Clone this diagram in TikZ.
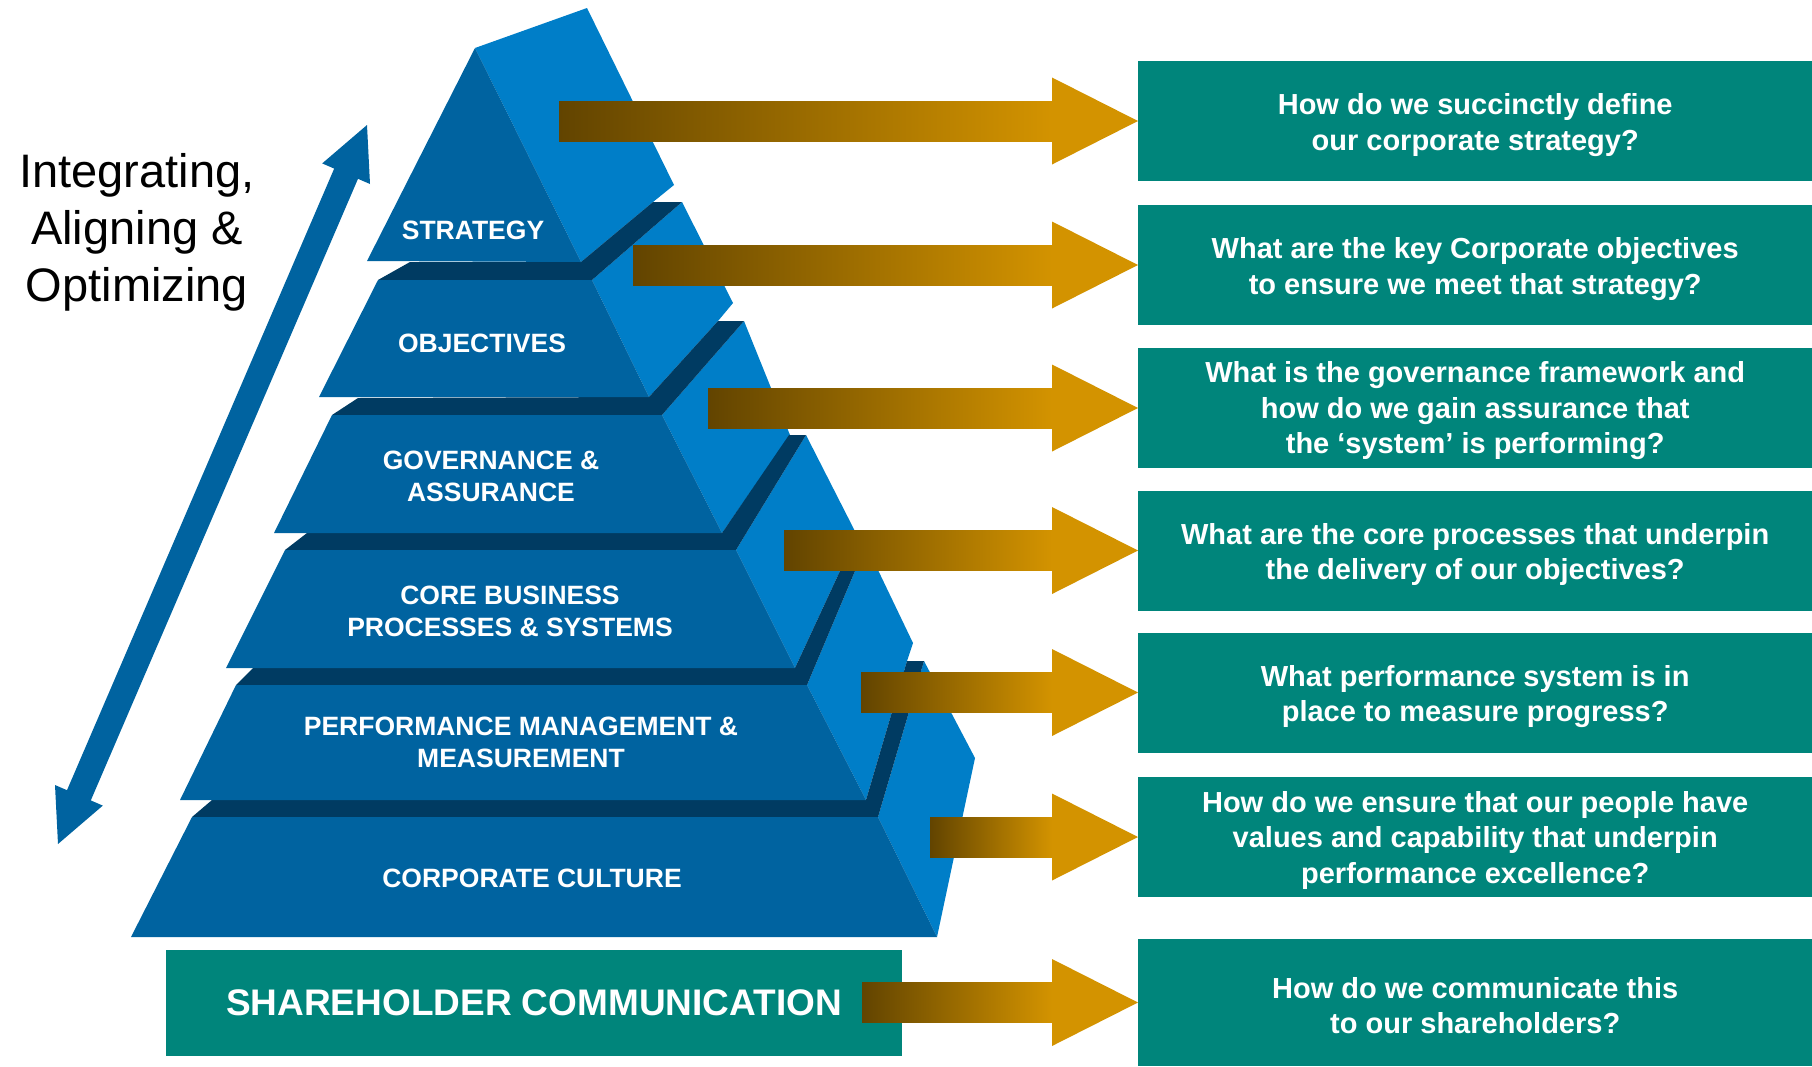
\documentclass[tikz,border=0pt]{standalone}
\usepackage{fontspec}
\setmainfont{Liberation Sans}
\usetikzlibrary{calc}

\definecolor{tierfront}{RGB}{0,99,160}
\definecolor{tierside}{RGB}{0,126,200}
\definecolor{tierledge}{RGB}{0,59,98}
\definecolor{qteal}{RGB}{0,133,123}
\definecolor{arrowgold}{RGB}{211,147,0}
\definecolor{arrowbrown}{RGB}{98,68,0}

\begin{document}
\begin{tikzpicture}[x=1pt,y=-1pt,
  front/.style={fill=tierfront},
  side/.style={fill=tierside},
  ledge/.style={fill=tierledge},
  tierlabel/.style={text=white,font=\fontsize{26.5}{32}\selectfont\bfseries,align=center,inner sep=0pt},
  qbox/.style={fill=qteal,minimum width=674pt,minimum height=120pt,inner sep=0pt,anchor=west},
  qtext/.style={text=white,font=\fontsize{29}{35.5}\selectfont\bfseries,align=center,inner sep=0pt},
  shaft/.style={left color=arrowbrown,right color=arrowgold},
  head/.style={fill=arrowgold}]

\useasboundingbox (0,0) rectangle (1812,1066);

% ---- double arrow on the left ----
\coordinate (up) at (367,125);
\coordinate (down) at (58,844);
\fill[tierfront] (up) -- (370.0,184.0) -- (358.0,178.8) -- (90.8,800.4) -- (102.8,805.6)
  -- (down) -- (55.0,785.0) -- (67.0,790.2) -- (334.2,168.6) -- (322.2,163.4) -- cycle;

\node[align=center,inner sep=0pt,font=\fontsize{47}{57}\selectfont] (caption) at (137,232)
  {Integrating,\\Aligning \&\\Optimizing};

% ---- pyramid: side faces ----
\fill[side] (475,48) -- (587,8) -- (674,185) -- (653,202) -- (581,262) -- cycle;
\fill[side] (592,280) -- (682,202) -- (733,303) -- (718,321) -- (649,397) -- cycle;
\fill[side] (662,415) -- (744,321) -- (790,435) -- (722,533) -- cycle;
\fill[side] (736,550) -- (806,435) -- (862,545) -- (852,545) -- (795,668) -- cycle;
\fill[side] (807,685) -- (866,545) -- (913,643) -- (907,661) -- (866,800) -- cycle;
\fill[side] (878,817) -- (924,661) -- (975,758) -- (937,937) -- cycle;

% ---- pyramid: ledges between tiers ----
\fill[ledge] (378,280) -- (410,262) -- (581,262) -- (653,202) -- (682,202) -- (592,280) -- cycle;
\fill[ledge] (332,415) -- (358,398) -- (649,397) -- (718,321) -- (744,321) -- (662,415) -- cycle;
\fill[ledge] (285,550) -- (307,533) -- (722,533) -- (789,435) -- (806,435) -- (736,550) -- cycle;
\fill[ledge] (236,685) -- (253,668) -- (795,668) -- (852,545) -- (866,545) -- (807,685) -- cycle;
\fill[ledge] (192,817) -- (212,800) -- (866,800) -- (907,661) -- (924,661) -- (878,817) -- cycle;

% ---- pyramid: front faces ----
\fill[front] (475,48) -- (581,262) -- (367,261) -- cycle;
\fill[front] (378,280) -- (592,280) -- (649,397) -- (319,397) -- cycle;
\fill[front] (332,415) -- (662,415) -- (722,533) -- (274,533) -- cycle;
\fill[front] (285,550) -- (736,550) -- (795,668) -- (226,668) -- cycle;
\fill[front] (236,685) -- (807,685) -- (866,800) -- (180,800) -- cycle;
\fill[front] (192,817) -- (878,817) -- (937,937) -- (131,937) -- cycle;

% ---- tier labels ----
\node[tierlabel] (t1) at (473,230) {STRATEGY};
\node[tierlabel] (t2) at (482,343) {OBJECTIVES};
\node[tierlabel] (t3) at (491,476) {GOVERNANCE \&\\ASSURANCE};
\node[tierlabel] (t4) at (510,611) {CORE BUSINESS\\PROCESSES \& SYSTEMS};
\node[tierlabel] (t5) at (521,742) {PERFORMANCE MANAGEMENT \&\\MEASUREMENT};
\node[tierlabel] (t6) at (532,878) {CORPORATE CULTURE};

% ---- shareholder bar ----
\node[fill=qteal,text=white,font=\fontsize{37}{44}\selectfont\bfseries,inner sep=0pt,
      minimum width=736pt,minimum height=106pt] (sh) at (534,1003) {SHAREHOLDER COMMUNICATION};

% ---- question boxes ----
\node[qbox] (q1) at (1138,121) {};
\node[qbox] (q2) at (1138,265) {};
\node[qbox] (q3) at (1138,408) {};
\node[qbox] (q4) at (1138,550.5) {};
\node[qbox] (q5) at (1138,692.5) {};
\node[qbox] (q6) at (1138,837) {};
\node[qbox,minimum height=127pt] (q7) at (1138,1002.5) {};

\node[qtext] (qt1) at ($(q1.center)+(0,4)$) {How do we succinctly define\\our corporate strategy?};
\node[qtext] (qt2) at ($(q2.center)+(0,4)$) {What are the key Corporate objectives\\to ensure we meet that strategy?};
\node[qtext] (qt3) at ($(q3.center)+(0,3)$) {What is the governance framework and\\how do we gain assurance that\\the ‘system’ is performing?};
\node[qtext] (qt4) at ($(q4.center)+(0,4)$) {What are the core processes that underpin\\the delivery of our objectives?};
\node[qtext] (qt5) at ($(q5.center)+(0,4)$) {What performance system is in\\place to measure progress?};
\node[qtext] (qt6) at ($(q6.center)+(0,3)$) {How do we ensure that our people have\\values and capability that underpin\\performance excellence?};
\node[qtext] (qt7) at ($(q7.center)+(0,3)$) {How do we communicate this\\to our shareholders?};

% ---- gold arrows from the tiers to the questions ----
\foreach \i/\sx in {1/559,2/633,3/708,4/784,5/861,6/930,7/862}{
  \coordinate (s\i) at (\sx,0);
  \coordinate (b\i) at (s\i |- q\i.west);
  \shade[shaft] ($(b\i)+(0,-20)$) rectangle ($(q\i.west)+(-86,20)$);
  \fill[head] ($(q\i.west)+(-86,-43.5)$) -- (q\i.west) -- ($(q\i.west)+(-86,43.5)$) -- cycle;
}

\end{tikzpicture}
\end{document}
